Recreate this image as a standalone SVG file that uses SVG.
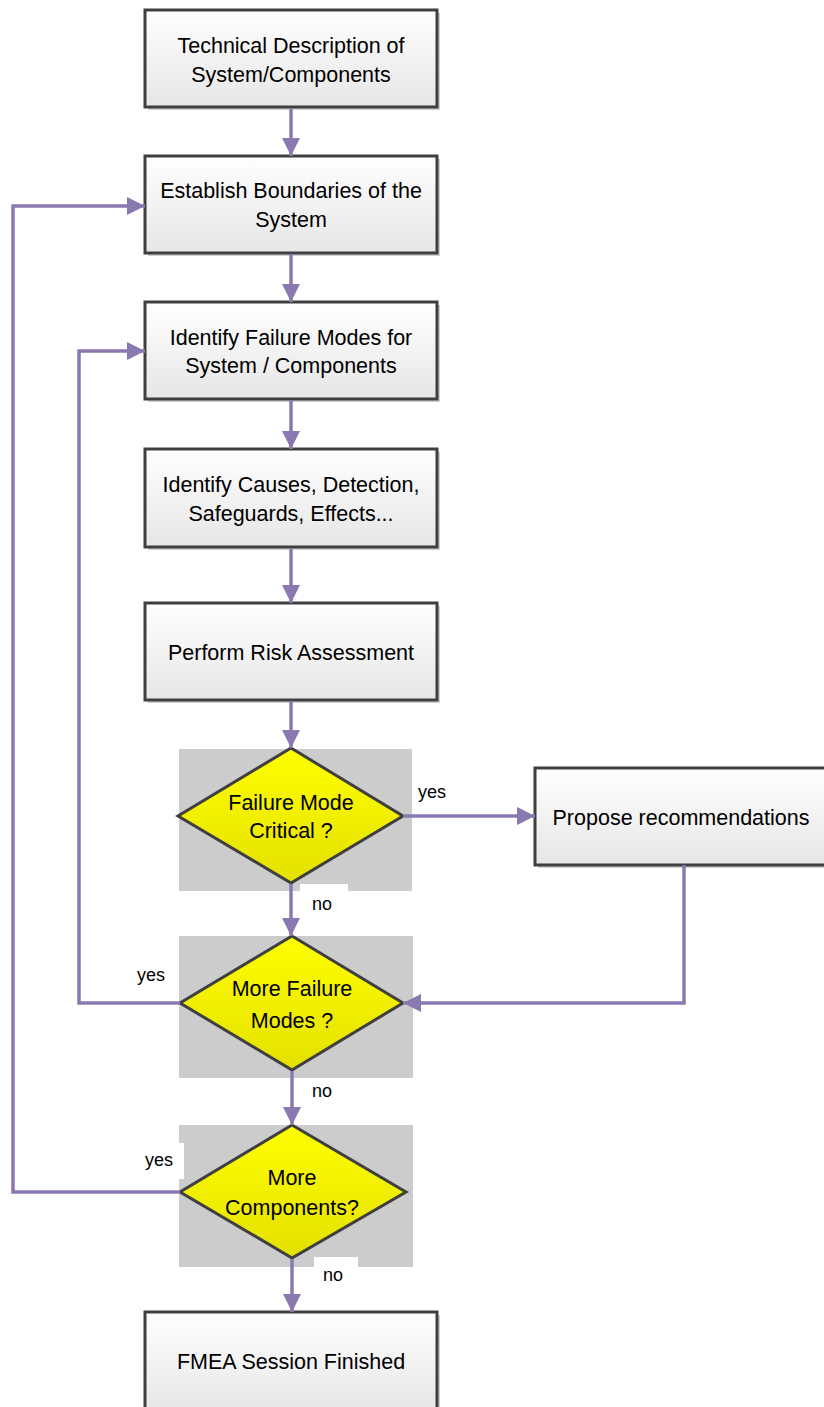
<svg xmlns="http://www.w3.org/2000/svg" width="824" height="1407" viewBox="0 0 824 1407">
<style>
.box{fill:url(#gBox);stroke:#3f3f3f;stroke-width:3}
.sh{fill:#cfcfcf}
.dia{fill:url(#gDia);stroke:#3f3f3f;stroke-width:3;stroke-linejoin:miter}
.bg{fill:#cccccc}
.t{font-family:"Liberation Sans",Arial,sans-serif;font-size:21.5px;fill:#000;text-anchor:middle}
.l{font-family:"Liberation Sans",Arial,sans-serif;font-size:18px;fill:#000}
.c{fill:none;stroke:#8a78b0;stroke-width:3.5}
</style>
<defs>
<linearGradient id="gBox" x1="0" y1="0" x2="0" y2="1"><stop offset="0" stop-color="#ffffff"/><stop offset="1" stop-color="#e6e6e6"/></linearGradient>
<linearGradient id="gDia" x1="0" y1="0" x2="0" y2="1"><stop offset="0" stop-color="#ffff00"/><stop offset="1" stop-color="#e4e000"/></linearGradient>
<marker id="ah" markerUnits="userSpaceOnUse" markerWidth="20" markerHeight="18" refX="18" refY="9" orient="auto"><path d="M0,0 L18,9 L0,18 Z" fill="#8a78b0"/></marker>
</defs>
<g id="node1"><rect class="sh" x="148" y="13" width="292" height="97"/><rect class="box" x="145" y="10" width="292" height="97"/><text class="t" x="291" y="53">Technical Description of</text><text class="t" x="291" y="82">System/Components</text></g>
<g id="node2"><rect class="sh" x="148" y="159" width="292" height="97"/><rect class="box" x="145" y="156" width="292" height="97"/><text class="t" x="291" y="198">Establish Boundaries of the</text><text class="t" x="291" y="227">System</text></g>
<g id="node3"><rect class="sh" x="148" y="305" width="292" height="97"/><rect class="box" x="145" y="302" width="292" height="97"/><text class="t" x="291" y="345">Identify Failure Modes for</text><text class="t" x="291" y="373">System / Components</text></g>
<g id="node4"><rect class="sh" x="148" y="452" width="292" height="98"/><rect class="box" x="145" y="449" width="292" height="98"/><text class="t" x="291" y="492">Identify Causes, Detection,</text><text class="t" x="291" y="521">Safeguards, Effects...</text></g>
<g id="node5"><rect class="sh" x="148" y="606" width="292" height="97"/><rect class="box" x="145" y="603" width="292" height="97"/><text class="t" x="291" y="660">Perform Risk Assessment</text></g>
<g id="dec1"><rect class="bg" x="179" y="749" width="233" height="142"/><polygon class="dia" points="291,748 403,816 291,883 178,816"/><text class="t" x="291" y="810">Failure Mode</text><text class="t" x="291" y="838">Critical ?</text></g>
<g id="node6"><rect class="sh" x="538" y="771" width="292" height="97"/><rect class="box" x="535" y="768" width="295" height="97"/><text class="t" x="681" y="825">Propose recommendations</text></g>
<g id="dec2"><rect class="bg" x="179" y="936" width="234" height="142"/><polygon class="dia" points="292,936 403,1003 292,1070 180,1003"/><text class="t" x="292" y="996">More Failure</text><text class="t" x="292" y="1028">Modes ?</text></g>
<g id="dec3"><rect class="bg" x="179" y="1125" width="234" height="142"/><polygon class="dia" points="292,1125 406,1192 292,1258 180,1192"/><text class="t" x="292" y="1185">More</text><text class="t" x="292" y="1215">Components?</text></g>
<g id="node7"><rect class="sh" x="148" y="1315" width="292" height="100"/><rect class="box" x="145" y="1312" width="292" height="100"/><text class="t" x="291" y="1369">FMEA Session Finished</text></g>
<g id="connectors">
<line class="c" x1="291" y1="108" x2="291" y2="156" marker-end="url(#ah)"/>
<line class="c" x1="291" y1="254" x2="291" y2="302" marker-end="url(#ah)"/>
<line class="c" x1="291" y1="400" x2="291" y2="449" marker-end="url(#ah)"/>
<line class="c" x1="291" y1="548" x2="291" y2="603" marker-end="url(#ah)"/>
<line class="c" x1="291" y1="701" x2="291" y2="748" marker-end="url(#ah)"/>
<line class="c" x1="403" y1="816" x2="535" y2="816" marker-end="url(#ah)"/>
<line class="c" x1="291" y1="884" x2="291" y2="936" marker-end="url(#ah)"/>
<polyline class="c" points="684,865 684,1003 403,1003" marker-end="url(#ah)"/>
<polyline class="c" points="180,1003 79,1003 79,351 145,351" marker-end="url(#ah)"/>
<line class="c" x1="292" y1="1071" x2="292" y2="1125" marker-end="url(#ah)"/>
<polyline class="c" points="180,1192 13,1192 13,206 145,206" marker-end="url(#ah)"/>
<line class="c" x1="292" y1="1259" x2="292" y2="1312" marker-end="url(#ah)"/>
<rect x="412" y="775" width="45" height="30" fill="#fff"/><text class="l" x="418" y="798">yes</text>
<rect x="300" y="884" width="48" height="28" fill="#fff"/><text class="l" x="312" y="910">no</text>
<text class="l" x="137" y="981">yes</text>
<rect x="302" y="1078" width="44" height="22" fill="#fff"/><text class="l" x="312" y="1097">no</text>
<rect x="138" y="1143" width="46" height="36" fill="#fff"/><text class="l" x="145" y="1166">yes</text>
<rect x="314" y="1257" width="44" height="26" fill="#fff"/><text class="l" x="323" y="1281">no</text>
</g>
</svg>
